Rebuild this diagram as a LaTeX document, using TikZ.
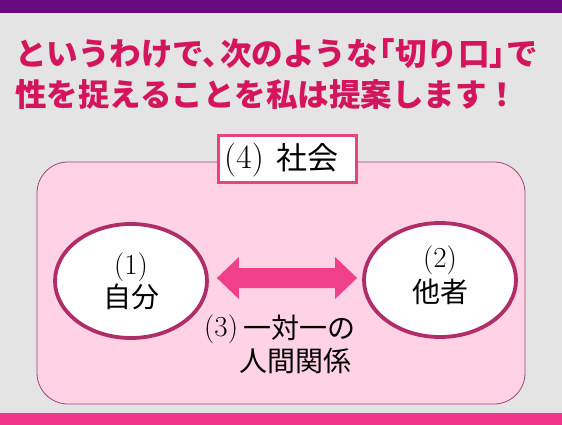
\documentclass[tikz,border=0pt]{standalone}
\usepackage{fontspec}
\newfontfamily\cjk{Noto Sans CJK JP}
\usetikzlibrary{calc,shapes.geometric}
\definecolor{bgc}{HTML}{E4E4E4}
\definecolor{topbar}{HTML}{6A0A80}
\definecolor{botbar}{HTML}{F0358A}
\definecolor{titlec}{HTML}{D4145C}
\definecolor{panel}{HTML}{FFD2E6}
\definecolor{panelb}{HTML}{9A4676}
\definecolor{ellb}{HTML}{B02E68}
\definecolor{arrowc}{HTML}{F0408A}
\definecolor{labelb}{HTML}{E8437F}
\newcommand{\hk}{\kern-0.45em}
\tikzset{
  titletext/.style={anchor=west,text=titlec,inner sep=0pt,font=\fontsize{31.5}{34}\cjk\bfseries},
  person/.style={ellipse,draw=ellb,line width=3.8pt,fill=white,minimum width=152pt,minimum height=114pt,inner sep=0pt},
  jtxt/.style={inner sep=0pt,font=\fontsize{28}{30}\cjk},
  ltxt/.style={inner sep=0pt,font=\fontsize{29}{32}\selectfont},
}
\begin{document}
\begin{tikzpicture}[x=1pt,y=-1pt]
\useasboundingbox (0,0) rectangle (562,425);
\fill[bgc] (0,0) rectangle (562,425);
\fill[topbar] (0,0) rectangle (562,13);
\fill[botbar] (0,413) rectangle (562,425);
\node[titletext] (t1) at (15,54) {というわけで、\hk 次のような\hk「切り口」\hk で};
\node[titletext] (t2) at (15,95) {性を捉えることを私は提案します！};
\node[draw=panelb,line width=0.8pt,fill=panel,rounded corners=31pt,minimum width=488pt,minimum height=242pt] (soc) at (281,283) {};
\node[draw=labelb,line width=3pt,fill=white,minimum width=138pt,minimum height=47pt] (lbl) at (287,159) {};
\node[inner sep=0pt,anchor=west,font=\fontsize{34}{36}\selectfont] (lbl4) at (224,160) {(4)};
\node[jtxt,anchor=west,font=\fontsize{31}{32}\cjk] (lblj) at (276,158) {社会};
\node[person] (me) at (131,281) {};
\node[person] (ot) at (440,280) {};
\node[ltxt] (me1) at (131,267) {(1)};
\node[jtxt] (me2) at (131,297) {自分};
\node[ltxt] (ot1) at (440,260) {(2)};
\node[jtxt] (ot2) at (440,292) {他者};
\coordinate (a1) at ($(me.east)+(8,-3)$);
\coordinate (a2) at ($(ot.west)+(-5,-2)$);
\fill[arrowc] (a1) -- ++(22,-21) -- ++(0,11) -- ($(a2)+(-22,-10)$) -- ++(0,-11) -- (a2) -- ++(-22,21) -- ++(0,-11) -- ($(a1)+(22,10)$) -- ++(0,11) -- cycle;
\node[ltxt,anchor=west] (r1) at (204,329) {(3)};
\node[jtxt,anchor=west] (r2) at (243,328) {一対一の};
\node[jtxt] (r3) at (295,361) {人間関係};
\end{tikzpicture}
\end{document}
